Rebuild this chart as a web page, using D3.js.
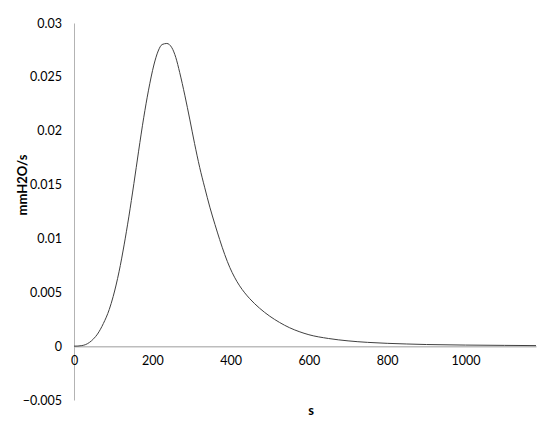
<!DOCTYPE html>
<html><head><meta charset="utf-8">
<script src="https://cdn.jsdelivr.net/npm/d3@7"></script>
<style>body{margin:0;background:#fff}svg{display:block}</style>
</head><body>
<svg id="c" width="550" height="429"></svg>
<script>
const seconds = [0,10,20,30,40,50,60,75,90,100,115,128,140,153,165,178,190,204,215,225,237,250,260,270,283,296,308,321,334,347,360,372,385,398,410,423,436,449,474,500,525,550,575,600,650,700,750,800,850,900,1000,1100,1180];
const flow = [0,0.00001,0.00005,0.00015,0.00036,0.00068,0.00112,0.0021,0.0034,0.0046,0.0069,0.0094,0.0120,0.0151,0.0181,0.0212,0.0237,0.0261,0.0274,0.0280,0.0281,0.0277,0.0268,0.0254,0.0233,0.0210,0.0188,0.0166,0.0147,0.0129,0.0113,0.0099,0.0085,0.0073,0.0064,0.0056,0.00495,0.0044,0.00352,0.00278,0.0022,0.00172,0.00135,0.00106,0.00071,0.00049,0.00035,0.00026,0.0002,0.00015,0.0001,0.00007,0.00005];
const xTicks = [0,200,400,600,800,1000];
const yTicks = [-0.005,0,0.005,0.01,0.015,0.02,0.025,0.03];
const xTitle = "s", yTitle = "mmH2O/s";

const svg = d3.select("#c");
const font = "Lato, 'Open Sans', sans-serif";
const x = d3.scaleLinear().domain([0,1180]).range([74,536]);
const y = d3.scaleLinear().domain([-0.005,0.03]).range([400,23]);

// y axis
const ya = svg.append("g").attr("transform","translate(74,0)")
  .call(d3.axisLeft(y).tickValues(yTicks).tickSize(0).tickPadding(12).tickFormat(d=>d3.format("")(+d.toFixed(3))));
ya.select(".domain").attr("stroke","#b3b3b3");
ya.selectAll("text").attr("font-family",font).attr("font-size",12.5).attr("fill","#000");

// x axis at y=0
const xa = svg.append("g").attr("transform",`translate(0,${y(0)})`)
  .call(d3.axisBottom(x).tickValues(xTicks).tickSize(0).tickPadding(10).tickFormat(d3.format("d")));
xa.select(".domain").attr("stroke","#bdbdbd").attr("stroke-width",1.5);
xa.selectAll("text").attr("font-family",font).attr("font-size",12.5).attr("fill","#000");

// line
svg.append("path")
  .datum(seconds.map((s,i)=>[s,flow[i]]))
  .attr("fill","none").attr("stroke","#404040").attr("stroke-width",1)
  .attr("d", d3.line().x(d=>x(d[0])).y(d=>y(d[1])).curve(d3.curveMonotoneX));

// titles
svg.append("text").attr("x",311).attr("y",415).attr("text-anchor","middle")
  .attr("font-family",font).attr("font-weight","bold").attr("font-size",13).text(xTitle);
svg.append("text").attr("transform","translate(27,185) rotate(-90)").attr("text-anchor","middle")
  .attr("font-family",font).attr("font-weight","bold").attr("font-size",13).text(yTitle);
</script>
</body></html>
